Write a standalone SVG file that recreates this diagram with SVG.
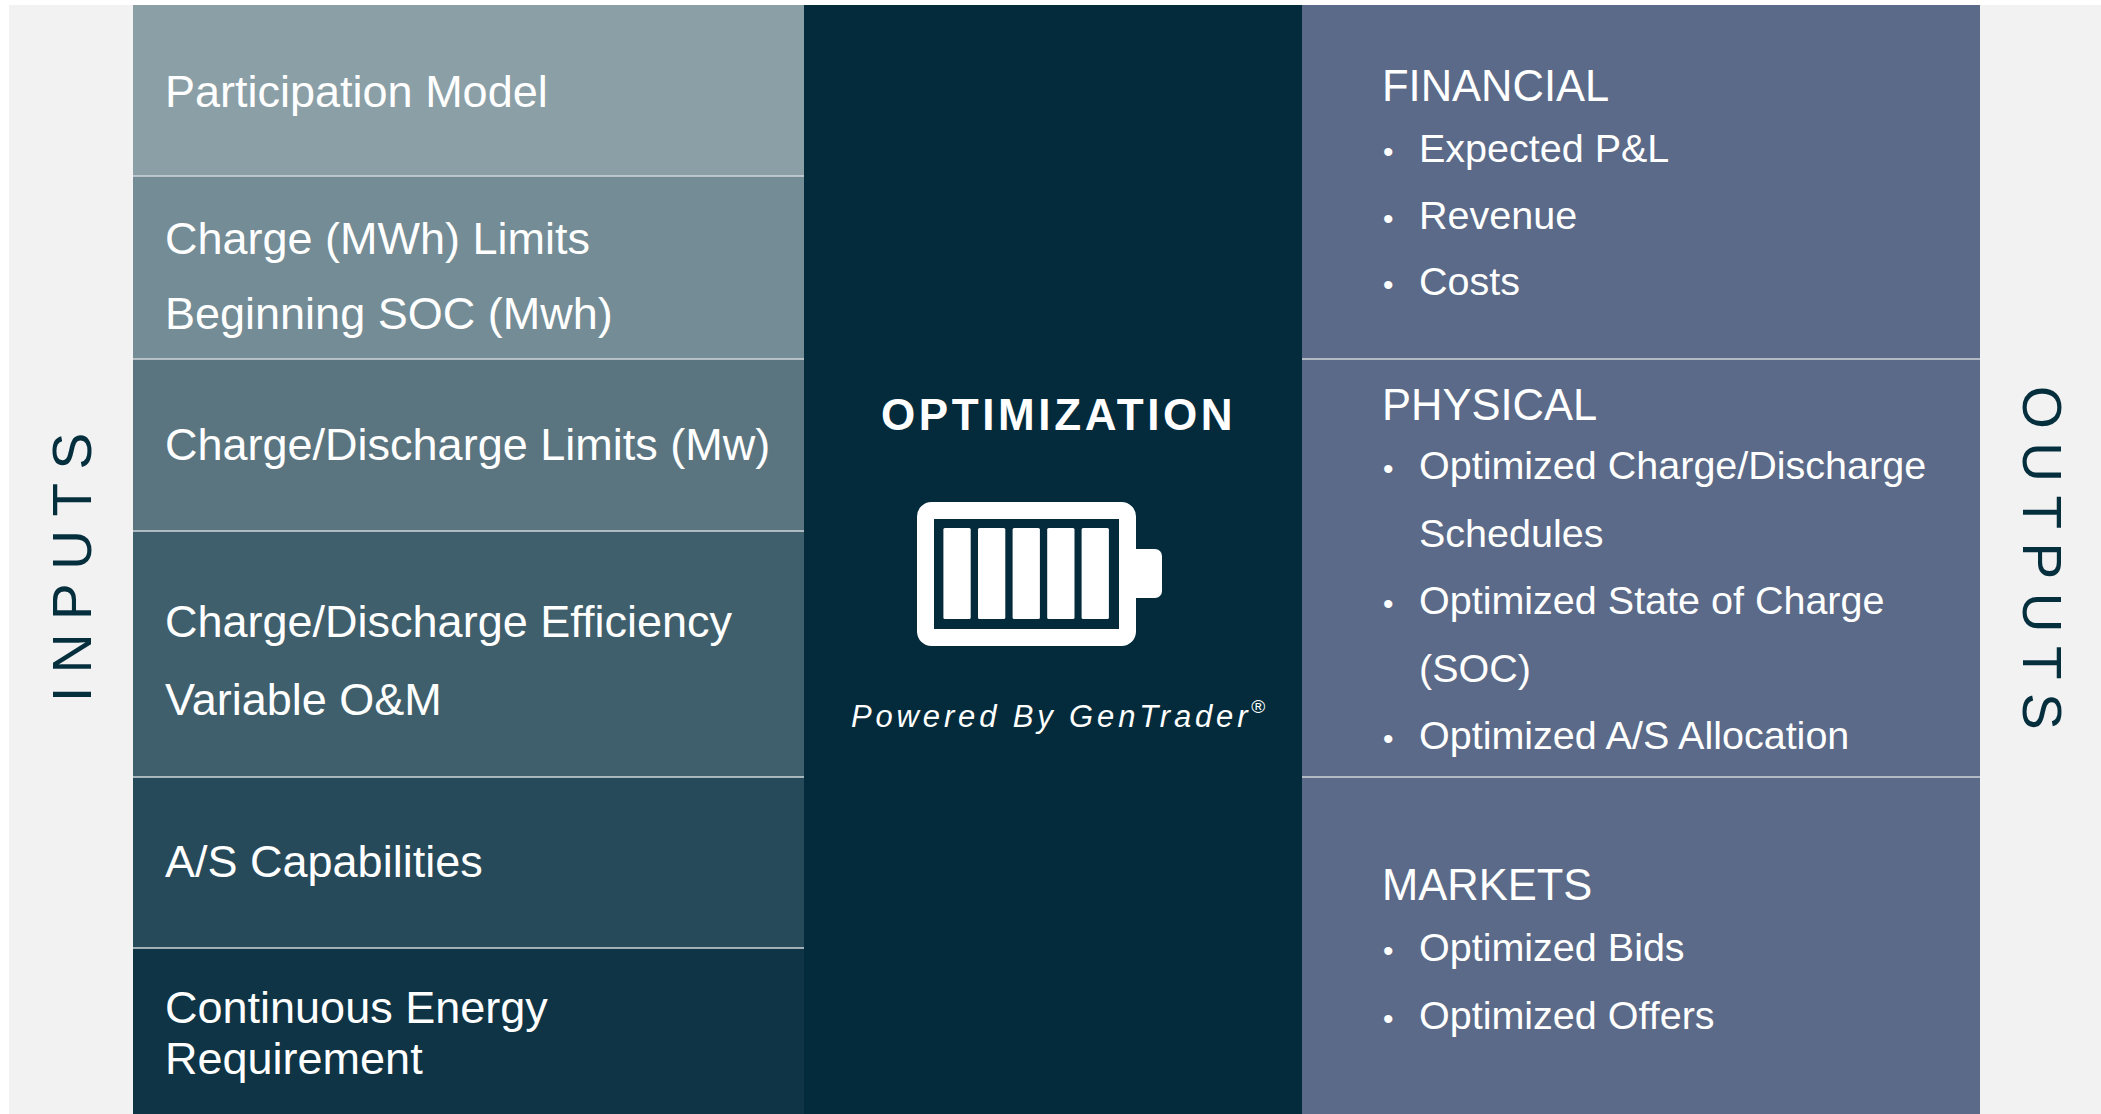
<svg xmlns="http://www.w3.org/2000/svg" width="2101" height="1114" viewBox="0 0 2101 1114">
<style>
.t{font-family:"Liberation Sans",Arial,sans-serif;fill:#ffffff;}
.in{font-size:45px;}
.hd{font-size:43.5px;}
.bl{font-size:39.5px;}
.dot{font-size:30px;}
.side{font-family:"Liberation Sans",Arial,sans-serif;font-size:55px;letter-spacing:13.5px;fill:#062f3e;}
.div{stroke:#cfd6d9;stroke-width:1.6;}
</style>
<rect x="0" y="0" width="2101" height="1114" fill="#ffffff"/>
<rect x="9" y="5" width="2092" height="1109" fill="#f2f2f2"/>

<g id="inputs-label">
<text class="side" transform="translate(91,702) rotate(-90)">INPUTS</text>
</g>
<g id="outputs-label">
<text class="side" transform="translate(2023,386) rotate(90)">OUTPUTS</text>
</g>

<g id="input-participation-model">
<rect x="133" y="5" width="671" height="171" fill="#8b9fa7"/>
<text class="t in" x="165" y="107">Participation Model</text>
</g>
<g id="input-charge-limits">
<rect x="133" y="176" width="671" height="183" fill="#738c95"/>
<text class="t in" x="165" y="254">Charge (MWh) Limits</text>
<text class="t in" x="165" y="329">Beginning SOC (Mwh)</text>
</g>
<g id="input-charge-discharge-limits">
<rect x="133" y="359" width="671" height="172" fill="#5a7580"/>
<text class="t in" x="165" y="460">Charge/Discharge Limits (Mw)</text>
</g>
<g id="input-efficiency">
<rect x="133" y="531" width="671" height="246" fill="#405f6c"/>
<text class="t in" x="165" y="637">Charge/Discharge Efficiency</text>
<text class="t in" x="165" y="715">Variable O&amp;M</text>
</g>
<g id="input-as-capabilities">
<rect x="133" y="777" width="671" height="171" fill="#274a5b"/>
<text class="t in" x="165" y="877">A/S Capabilities</text>
</g>
<g id="input-continuous-energy">
<rect x="133" y="948" width="671" height="166" fill="#0e3445"/>
<text class="t in" x="165" y="1023">Continuous Energy</text>
<text class="t in" x="165" y="1074">Requirement</text>
</g>

<g id="optimization">
<rect x="804" y="5" width="498" height="1109" fill="#032b3b"/>
<text x="881" y="430" style="font-family:'Liberation Sans',Arial,sans-serif;font-weight:bold;font-size:44px;letter-spacing:3.6px;fill:#ffffff;">OPTIMIZATION</text>
<g id="battery-icon" fill="#ffffff">
<rect x="925.5" y="510.5" width="202" height="127" rx="6" fill="none" stroke="#ffffff" stroke-width="17"/>
<path d="M1134 549 H1155 A7 7 0 0 1 1162 556 V591 A7 7 0 0 1 1155 598 H1134 Z"/>
<rect x="943.4" y="528" width="27.3" height="91" rx="1.5"/>
<rect x="978" y="528" width="27.3" height="91" rx="1.5"/>
<rect x="1012.6" y="528" width="27.3" height="91" rx="1.5"/>
<rect x="1047.2" y="528" width="27.3" height="91" rx="1.5"/>
<rect x="1081.6" y="528" width="27.3" height="91" rx="1.5"/>
</g>
<text x="851" y="727" style="font-family:'Liberation Sans',Arial,sans-serif;font-style:italic;font-size:31px;letter-spacing:3.85px;fill:#ffffff;">Powered By GenTrader<tspan font-size="19" dy="-14" style="font-style:normal;letter-spacing:0">®</tspan></text>
</g>

<g id="output-financial">
<rect x="1302" y="5" width="678" height="354" fill="#5a6a88"/>
<text class="t hd" x="1382" y="101">FINANCIAL</text>
<text class="t dot" x="1383" y="162">•</text>
<text class="t bl" x="1419" y="162">Expected P&amp;L</text>
<text class="t dot" x="1383" y="229">•</text>
<text class="t bl" x="1419" y="229">Revenue</text>
<text class="t dot" x="1383" y="295">•</text>
<text class="t bl" x="1419" y="295">Costs</text>
</g>
<g id="output-physical">
<rect x="1302" y="359" width="678" height="418" fill="#5a6a88"/>
<text class="t hd" x="1382" y="420">PHYSICAL</text>
<text class="t dot" x="1383" y="479">•</text>
<text class="t bl" x="1419" y="479">Optimized Charge/Discharge</text>
<text class="t bl" x="1419" y="547">Schedules</text>
<text class="t dot" x="1383" y="614">•</text>
<text class="t bl" x="1419" y="614">Optimized State of Charge</text>
<text class="t bl" x="1419" y="682">(SOC)</text>
<text class="t dot" x="1383" y="749">•</text>
<text class="t bl" x="1419" y="749">Optimized A/S Allocation</text>
</g>
<g id="output-markets">
<rect x="1302" y="777" width="678" height="337" fill="#5a6a88"/>
<text class="t hd" x="1382" y="900">MARKETS</text>
<text class="t dot" x="1383" y="961">•</text>
<text class="t bl" x="1419" y="961">Optimized Bids</text>
<text class="t dot" x="1383" y="1029">•</text>
<text class="t bl" x="1419" y="1029">Optimized Offers</text>
</g>

<g id="dividers">
<line class="div" x1="133" y1="176" x2="804" y2="176"/>
<line class="div" x1="133" y1="359" x2="804" y2="359"/>
<line class="div" x1="133" y1="531" x2="804" y2="531"/>
<line class="div" x1="133" y1="777" x2="804" y2="777"/>
<line class="div" x1="133" y1="948" x2="804" y2="948"/>
<line class="div" x1="1302" y1="359" x2="1980" y2="359"/>
<line class="div" x1="1302" y1="777" x2="1980" y2="777"/>
</g>
<g id="connectors"/>
</svg>
